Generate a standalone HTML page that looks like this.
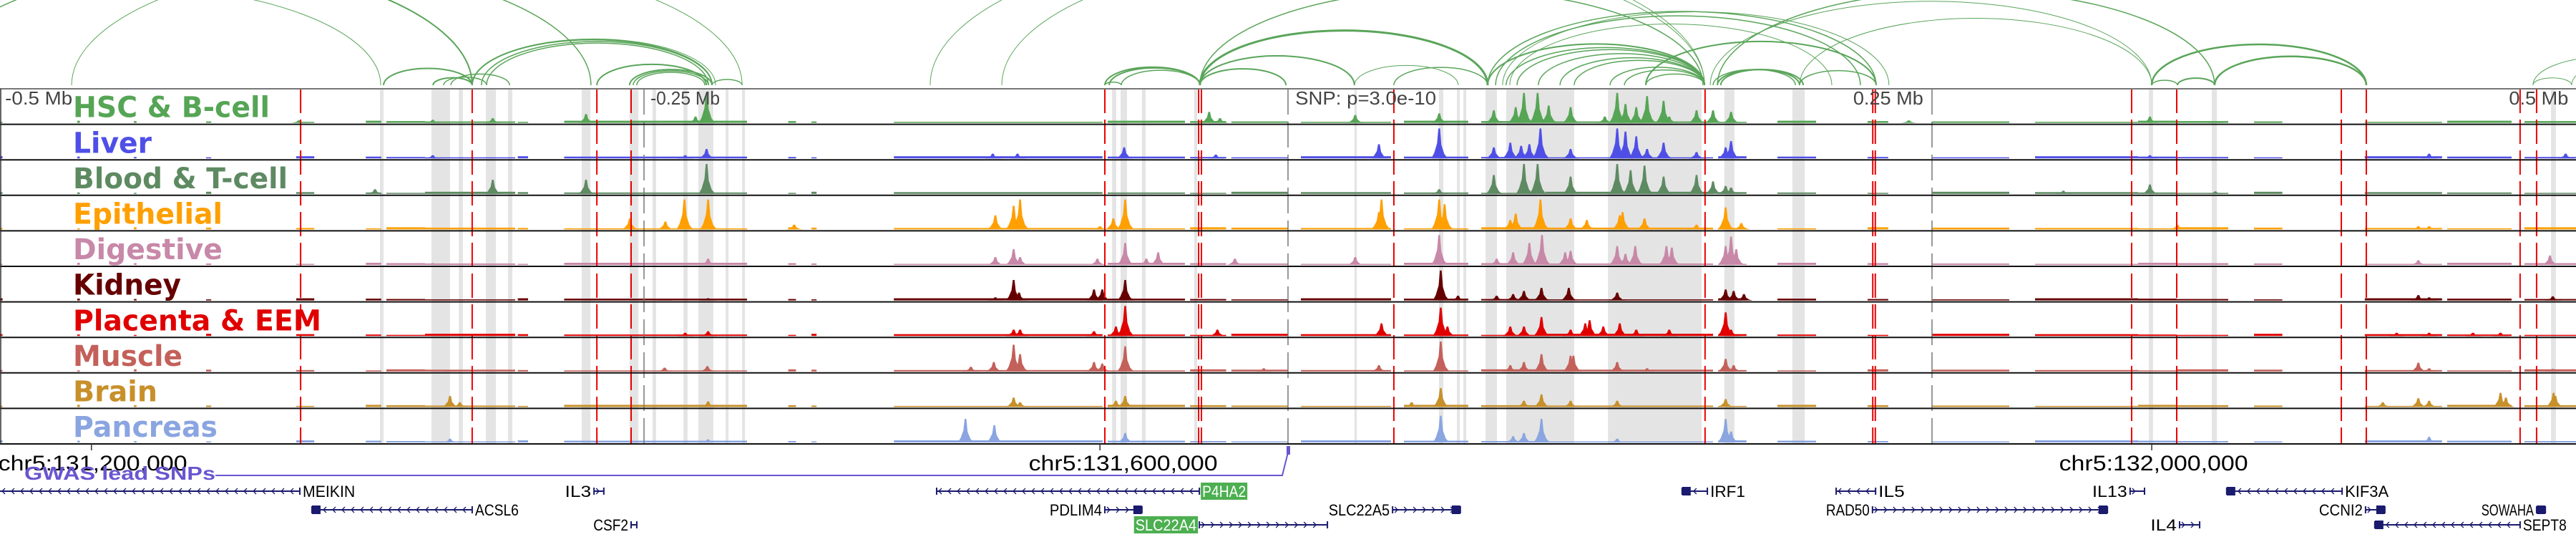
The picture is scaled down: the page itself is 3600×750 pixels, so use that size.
<!DOCTYPE html>
<html><head><meta charset="utf-8"><style>
html,body{margin:0;padding:0;background:#fff;}
svg{display:block;font-family:"Liberation Sans","DejaVu Sans",sans-serif;}
</style></head><body>
<svg id="chart" width="3600" height="750" viewBox="0 0 3600 750" xmlns="http://www.w3.org/2000/svg"></svg>
<script>
// ---- data (positions in kb relative to lead SNP, heights 0..1) ----
const trackNames = ["HSC & B-cell","Liver","Blood & T-cell","Epithelial","Digestive","Kidney","Placenta & EEM","Muscle","Brain","Pancreas"];
const trackColors = ["#55a555","#4f4fe8","#5e8a62","#ff9f00","#c888a8","#660000","#e00000","#c4605a","#c8902a","#8aa5e0"];
const labelWidths = [275,110,300,209,209,151,347,153,118,202];
const hscPeaks = [[-384,.08],[-332,.1],[-308.7,.15],[-272.5,.28],[-230,.2],[-225.7,.95],[-30.6,.35],[-26.4,.15],[26.1,.25],[58.7,.3],[79.9,.4],[88.4,.5],[91.6,.95],[96.9,.95],[101.2,.55],[109.7,.5],[123,.2],[127.8,.95],[131,.6],[135.2,.5],[139.4,.85],[145.8,.7],[148,.2],[158.6,.4],[165,.4],[172,.35],[241,.08],[334.6,.2],[360,.05]];
const liverPeaks = [[-332,.1],[-234,.1],[-225.7,.3],[-114.6,.15],[-105,.15],[-63.6,.35],[-28,.12],[35.3,.45],[58.7,.95],[79.9,.35],[86.3,.5],[90.5,.4],[93.7,.45],[98,.95],[109.7,.3],[127.8,.95],[131,.85],[135.2,.7],[139.4,.3],[145.8,.5],[158.6,.2],[169.9,.35],[172,.55],[334.6,.1],[443,.15],[496,.15]];
const bloodPeaks = [[-354.4,.15],[-308.7,.45],[-272.5,.45],[-225.7,.95],[58.7,.15],[79.9,.6],[91.6,.95],[96.9,.95],[109.7,.55],[127.8,.95],[133,.75],[138.4,.9],[145.8,.55],[158.6,.6],[165,.4],[169.9,.25],[172,.2],[301,.1],[334.6,.3],[360,.08]];
const epiPeaks = [[-255.5,.35],[-241.7,.25],[-234.3,.95],[-225.1,.95],[-191.7,.15],[-113.6,.45],[-106.5,.75],[-104,.95],[-73,.1],[-67.8,.35],[-63.2,.95],[35.3,.55],[36.3,.95],[58.7,.95],[60.8,.8],[86.3,.3],[88.4,.5],[98,.95],[109.7,.35],[116,.3],[128.8,.45],[129.9,.55],[138.4,.35],[158.6,.15],[169.9,.7],[176,.2],[345.3,.15],[438.8,.1],[443,.1]];
const digPeaks = [[-332,.06],[-225.1,.2],[-113.6,.25],[-106.5,.5],[-104,.25],[-74,.2],[-63.2,.7],[-55,.2],[-50.4,.4],[-20.6,.2],[26.1,.25],[58.7,.95],[81,.2],[87.4,.4],[93.7,.7],[98.6,.95],[107.6,.4],[109.7,.45],[127.8,.6],[131,.35],[134.8,.6],[146.9,.6],[149,.55],[169.9,.6],[172,.9],[174,.5],[438.8,.15],[489.9,.3]];
const kidPeaks = [[-242,.05],[-225.1,.07],[-113.6,.1],[-106.5,.65],[-104.4,.25],[-75.3,.35],[-72.1,.35],[-63.2,.65],[59.3,.95],[66,.15],[81,.15],[87.4,.2],[91.6,.3],[98.4,.4],[109,.4],[127.8,.25],[169.9,.35],[173,.3],[177,.2],[438.8,.17],[443,.1],[491,.13]];
const plaPeaks = [[-234,.1],[-225.1,.15],[-106.5,.2],[-104,.2],[-75.3,.15],[-66.8,.3],[-63.2,.95],[-27.4,.2],[36.3,.4],[59.3,.9],[61.9,.3],[86.3,.3],[91.6,.3],[98.4,.6],[109.7,.2],[115.4,.4],[117.1,.5],[122.4,.3],[128.8,.4],[135.2,.2],[148,.2],[169.9,.75],[172,.2],[430.4,.1],[443,.1],[460,.1],[470.7,.1]];
const musPeaks = [[-325,.05],[-242,.12],[-225.4,.17],[-123.1,.15],[-114.2,.3],[-106.5,.85],[-104,.55],[-75.3,.3],[-72.1,.25],[-63.2,.8],[-9.4,.1],[35.3,.2],[59.3,.95],[86.3,.2],[91.6,.3],[98.4,.55],[109.7,.5],[110.8,.5],[127.8,.3],[139.4,.1],[169.9,.4],[173,.2],[438.8,.28],[443,.1],[491,.08]];
const brainPeaks = [[-325.3,.35],[-321.5,.15],[-225.1,.18],[-106.5,.3],[-104,.15],[-66.8,.2],[-63.2,.35],[48,.15],[59.3,.6],[91.6,.2],[98.4,.4],[109.7,.2],[127.8,.2],[169.9,.25],[425,.15],[438.8,.28],[443,.2],[470.7,.45],[472.8,.3],[491.3,.45],[492,.35]];
const panPeaks = [[-325.3,.12],[-225.1,.1],[-125.2,.75],[-114,.55],[-63.2,.3],[59.3,.85],[87.4,.2],[91.6,.3],[98.4,.75],[127.8,.12],[169.9,.75],[172,.35],[443,.18]];
const allPeaks = [hscPeaks,liverPeaks,bloodPeaks,epiPeaks,digPeaks,kidPeaks,plaPeaks,musPeaks,brainPeaks,panPeaks];
const coverage = [[-500,-499],[-470,-469],[-448,-447],[-420,-418],[-385,-378],[-358,-352],[-350,-335],[-335,-300],[-299,-295],[-281,-210],[-194,-191],[-185,-183],[-153,-72],[-70,-40],[-38,-24],[-22,0],[5,40],[45,70],[75,100],[100,165],[167,178],[190,205],[225,233],[250,280],[290,330],[330,345],[345,365],[375,386],[418,448],[450,475],[480,500]];
const redLines = [-383.3,-316.7,-268.3,-255,-71.1,-34.7,-33.6,41.1,161.9,227,228,327.5,345,408.9,418.6,478.3,484.7];
const mbLines = [-250,0,250];
const grayBands = [[-352.5,-351.1],[-332.5,-325.3],[-321.9,-320.3],[-311.4,-307.5],[-302.8,-301.1],[-274.2,-270.8],[-255.6,-252.2],[-246.7,-245.3],[-234.7,-233.1],[-228.9,-223.1],[-218.3,-217.2],[-211.9,-210.8],[-68.3,-66.7],[-65,-62.5],[-56.7,-55.3],[-36.4,-35.3],[25.8,26.7],[58.6,60.3],[65.6,66.7],[68.1,69.2],[76.7,81.1],[84.7,111.1],[124.2,160.6],[169.4,173.3],[195.8,200.6],[334.2,335.8],[358.6,360.6],[490.3,492.2]];
const arcStarts = [-555.6,-583.3,-527.8,-472.2,-351.1,-331.9,-327.8,-325,-316.7,-313.1,-311.1,-316.7,-268.3,-255.6,-254.2,-252.8,-223.6,-71.1,-71.1,-69.4,-64.7,-34.2,-34.2,-34.2,-34.2,41.1,25.8,77.5,84.7,88.9,97.2,105.6,111.1,125,130.6,138.9,77.5,80.6,83.3,86.1,-111.1,-138.9,138.9,166.7,168,165,198.6,163.9,198.6,166.7,335.3,345.3,335.3,359.7,483.3,483.3,498.3];
const arcEnds   = [-352.2,-316.7,-270.6,-211.9,-316.7,-316.7,-311.1,-302.2,-223.6,-223.6,-225,-222.2,-225.8,-223.6,-225,-226.4,-211.9,-64.7,-34.2,-34.2,-34.2,-0.8,25.8,77.5,161.1,77.5,66.1,161.7,161.7,161.7,161.7,161.7,161.7,161.7,161.7,161.7,228.3,222.2,233.3,211.1,161.7,161.7,228.3,198.6,200,197,228.3,335.3,335.3,359.7,345.3,359.7,418.6,418.6,498.3,541.7,555.6];
const arcWeights = [1,2,1.5,1,2,2,1.5,1.5,2,1.5,1.5,1,2,2,1.5,1.5,1.5,1.5,2,2,1.5,2,2,3,1.5,1.5,1,2,1.5,1.5,1.5,1.5,1.5,1.5,1.5,1.5,1.5,1.5,1,1,1,1,2,2,2,1.5,1.5,1,1,1.5,1.5,2,2.5,2.5,1,1,1];
const axisTicks = [-464.5,-73,335.3];
const axisLabels = ["chr5:131,200,000","chr5:131,600,000","chr5:132,000,000"];
const axisLabelPos = [-464,-64,336];
const mbLabels = ["-0.5 Mb","-0.25 Mb","SNP: p=3.0e-10","0.25 Mb","0.5 Mb"];
const mbLabelPos = [-498,-247.5,2.8,219.4,474];
const mbLabelW = [94,97,197,98,83];
const genes = [
 {name:"MEIKIN",row:0,start:-510,end:-383.6,dir:-1,side:"right",block:null},
 {name:"IL3",row:0,start:-269.4,end:-265.6,dir:1,side:"left",block:null},
 {name:"P4HA2",row:0,start:-136.4,end:-34.4,dir:-1,side:"right",block:null,box:true},
 {name:"IRF1",row:0,start:153,end:162.8,dir:-1,side:"right",block:"start"},
 {name:"IL5",row:0,start:212.8,end:228.1,dir:-1,side:"right",block:null},
 {name:"IL13",row:0,start:326.9,end:332.5,dir:1,side:"left",block:null},
 {name:"KIF3A",row:0,start:364.4,end:409.2,dir:-1,side:"right",block:"start"},
 {name:"ACSL6",row:1,start:-378.9,end:-316.7,dir:-1,side:"right",block:"start"},
 {name:"PDLIM4",row:1,start:-71.1,end:-56.7,dir:1,side:"left",block:"end"},
 {name:"SLC22A5",row:1,start:40.6,end:66.9,dir:1,side:"left",block:"end"},
 {name:"RAD50",row:1,start:226.9,end:318.1,dir:1,side:"left",block:"end"},
 {name:"CCNI2",row:1,start:418.3,end:425.8,dir:1,side:"left",block:"end"},
 {name:"SOWAHA",row:1,start:484.7,end:488.1,dir:1,side:"left",block:"end"},
 {name:"CSF2",row:2,start:-255,end:-252.8,dir:1,side:"left",block:null},
 {name:"SLC22A4",row:2,start:-34.4,end:15.3,dir:1,side:"left",block:null,box:true},
 {name:"IL4",row:2,start:346.1,end:353.9,dir:1,side:"left",block:null},
 {name:"SEPT8",row:2,start:421.9,end:478.3,dir:-1,side:"right",block:"start"}
];
const snpPos = [0];

// ---- scales ----
const NS = "http://www.w3.org/2000/svg";
const svg = document.getElementById("chart");
const X = kb => 1800 + kb * 3.6;
const TOP = 124, ROWH = 49.6, NT = trackNames.length, BOT = TOP + ROWH * NT;
const rowBase = i => TOP + ROWH * (i + 1) - 2;
const yH = (i, h) => rowBase(i) - h * 44;
function el(tag, attrs, parent) {
  const e = document.createElementNS(NS, tag);
  for (const k in attrs) e.setAttribute(k, attrs[k]);
  (parent || svg).appendChild(e);
  return e;
}

// gray bands
const bandG = el("g", {});


grayBands.forEach(b => {
  const r = el("rect", {x: X(b[0]), y: TOP, width: Math.max(2, X(b[1]) - X(b[0])), height: BOT - TOP, fill: "#e4e4e4"}, bandG);
  
  
});

// arcs
const arcG = el("g", {fill: "none", stroke: "#5aa55a"});


arcStarts.forEach((s, i) => {
  const x1 = X(s), x2 = X(arcEnds[i]), span = x2 - x1;
  const rx = span / 2, ry = span * 0.19;
  const p = el("path", {d: `M${x1},119 A${rx},${ry} 0 0 1 ${x2},119`, "stroke-width": arcWeights[i]}, arcG);
  
  
});

// tracks
for (let i = 0; i < NT; i++) {
  const g = el("g", {fill: trackColors[i]});
  
  
  coverage.forEach((c, j) => {
    const hh = 1.5 + ((j * 7 + i * 3) % 4) * 0.5;
    const r = el("rect", {x: X(c[0]), y: rowBase(i) - hh, width: Math.max(2, X(c[1]) - X(c[0])), height: hh}, g);
    
    
  });
  allPeaks[i].forEach(pk => {
    const x = X(pk[0]), b = rowBase(i), t = yH(i, pk[1]);
    const h = b - t;
    const d = `M${x-11},${b} L${x-7},${b-h*0.18} L${x-3},${b-h*0.5} L${x-1.2},${t} L${x+1.2},${t} L${x+3},${b-h*0.45} L${x+7},${b-h*0.15} L${x+12},${b} Z`;
    const p = el("path", {d: d}, g);
    
    
  });
}

// Mb lines & red SNP lines
mbLines.forEach(m => {
  const l = el("line", {x1: X(m), x2: X(m), y1: TOP, y2: BOT, stroke: "#777", "stroke-width": 1.5, "stroke-dasharray": "36 10"});
  
  
});
redLines.forEach(r => {
  const l = el("line", {x1: X(r), x2: X(r), y1: TOP, y2: BOT, stroke: "#ee0000", "stroke-width": 2, "stroke-dasharray": "34 9"});
  
  
});

// row separators
const topLine = el("line", {x1: 0, x2: 3600, y1: TOP, y2: TOP, stroke: "#777", "stroke-width": 2});


for (let i = 1; i <= NT; i++) {
  const l = el("line", {x1: 0, x2: 3600, y1: TOP + ROWH * i, y2: TOP + ROWH * i, stroke: "#111", "stroke-width": 2});
  
  
}
const leftB = el("line", {x1: 1, x2: 1, y1: TOP, y2: BOT, stroke: "#333", "stroke-width": 1.5});



// track labels
trackNames.forEach((n, i) => {
  const t = el("text", {x: 102, y: TOP + ROWH * i + 39.7, fill: trackColors[i], "font-size": 40, "font-weight": "bold", "font-family": "'DejaVu Sans',sans-serif", textLength: labelWidths[i], lengthAdjust: "spacingAndGlyphs"});
  t.textContent = n;
  
  
});

// Mb labels
mbLabels.forEach((s, i) => {
  const t = el("text", {x: X(mbLabelPos[i]), y: 146, fill: "#444", "font-size": 26, textLength: mbLabelW[i], lengthAdjust: "spacingAndGlyphs"});
  t.textContent = s;
  
  
});

// genomic axis
axisTicks.forEach(a => {
  const l = el("line", {x1: X(a), x2: X(a), y1: BOT, y2: BOT + 9, stroke: "#333", "stroke-width": 1.5});
  
  
});
axisLabels.forEach((s, i) => {
  const t = el("text", {x: X(axisLabelPos[i]), y: 657, "text-anchor": "middle", fill: "#000", "font-size": 30, textLength: 264, lengthAdjust: "spacingAndGlyphs"});
  t.textContent = s;
  
  
});

// GWAS lead SNPs
const gw = el("text", {x: 34, y: 670, fill: "#6a55d0", "font-size": 26, "font-weight": "bold", textLength: 267, lengthAdjust: "spacingAndGlyphs"});
gw.textContent = "GWAS lead SNPs";


snpPos.forEach(s => {
  const p = el("path", {d: `M301,664 L${X(s)-8},664 L${X(s)},632`, stroke: "#6a55d0", "stroke-width": 2, fill: "none"});
  
  
  const r = el("rect", {x: X(s) - 2, y: 623, width: 5, height: 12, fill: "#6a55d0"});
  
  
});

// genes
const geneRowY = [686, 712, 733];
genes.forEach(gn => {
  const g = el("g", {});
  
  
  const y = geneRowY[gn.row], x1 = X(gn.start), x2 = X(gn.end);
  el("line", {x1: Math.max(x1, 0), x2: x2, y1: y, y2: y, stroke: "#1a1a6e", "stroke-width": 2}, g);
  let ch = "";
  for (let x = Math.max(x1, 0) + 6; x < x2 - 4; x += 13) {
    ch += gn.dir > 0 ? `M${x-3},${y-4} L${x+1},${y} L${x-3},${y+4} ` : `M${x+1},${y-4} L${x-3},${y} L${x+1},${y+4} `;
  }
  if (ch) el("path", {d: ch, stroke: "#1a1a6e", "stroke-width": 1.3, fill: "none"}, g);
  el("line", {x1: x1, x2: x1, y1: y - 5, y2: y + 5, stroke: "#1a1a6e", "stroke-width": 2}, g);
  el("line", {x1: x2, x2: x2, y1: y - 5, y2: y + 5, stroke: "#1a1a6e", "stroke-width": 2}, g);
  if (gn.block) {
    const bx = gn.block === "start" ? x1 : x2 - 12;
    el("rect", {x: bx, y: y - 6, width: 12, height: 12, fill: "#1a1a6e"}, g);
  }
  const fs = 22;
  const w = gn.name.length * 12.2;
  const lx = gn.side === "right" ? x2 + 4 : x1 - 4 - w;
  if (gn.box) {
    el("rect", {x: lx - 2, y: y - 12, width: w + 4, height: 24, fill: "#4caf50"}, g);
  }
  const t = el("text", {x: lx, y: y + 8, "font-size": fs, fill: gn.box ? "#fff" : "#000", textLength: w, lengthAdjust: "spacingAndGlyphs"}, g);
  t.textContent = gn.name;
  
  
});
</script>
</body></html>
